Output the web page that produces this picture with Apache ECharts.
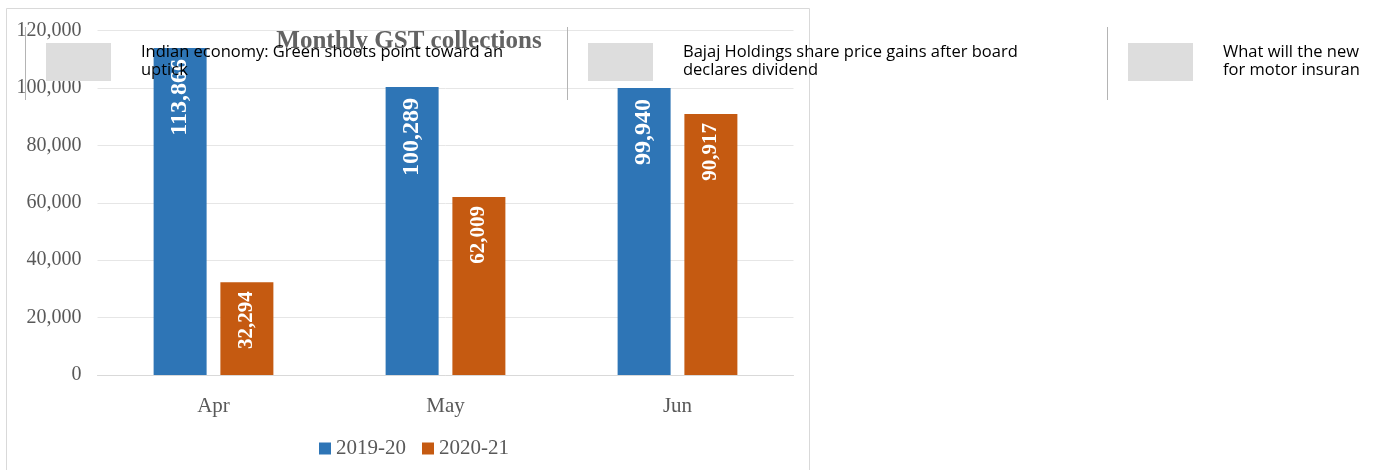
<!DOCTYPE html>
<html>
<head>
<meta charset="utf-8">
<script src="https://cdn.jsdelivr.net/npm/echarts@6/dist/echarts.min.js"></script>
<style>
html,body{margin:0;padding:0;background:#fff;}
#chart{width:1377px;height:470px;}
</style>
</head>
<body>
<div id="chart"></div>
<script>
const chartTitle = 'Monthly GST collections';
const categories = ['Apr', 'May', 'Jun'];
const seriesNames = ['2019-20', '2020-21'];
const values2019 = [113866, 100289, 99940];
const values2020 = [32294, 62009, 90917];
const yTickLabels = ['0', '20,000', '40,000', '60,000', '80,000', '100,000', '120,000'];
const headlines = [
  'Indian economy: Green shoots point toward an\nuptick',
  'Bajaj Holdings share price gains after board\ndeclares dividend',
  'What will the new\nfor motor insurance'
];

const fmt = v => String(v).replace(/\B(?=(\d{3})+(?!\d))/g, ',');
const serif = '"Liberation Serif", "DejaVu Serif", serif';
const headFont = '"Open Sans", Lato, sans-serif';

const graphics = [
  { type: 'rect', shape: { x: 6.5, y: 8.5, width: 803, height: 470 }, style: { fill: 'none', stroke: '#d9d9d9', lineWidth: 1 }, z: 1, silent: true }
];
const itemX = [25, 567, 1107];
headlines.forEach((t, i) => {
  const x0 = itemX[i];
  graphics.push({ type: 'line', shape: { x1: x0 + 0.5, y1: 27, x2: x0 + 0.5, y2: 100 }, style: { stroke: '#b4b4b4', lineWidth: 1 }, z: 100 });
  graphics.push({ type: 'rect', shape: { x: x0 + 21, y: 43, width: 65, height: 38 }, style: { fill: '#dddddd' }, z: 100 });
  graphics.push({ type: 'text', x: x0 + 116, y: 43, z: 101,
    style: { text: t, fill: '#000', font: '16.5px ' + headFont, lineHeight: 18,
             width: i === 2 ? 146 : 440, overflow: 'truncate', ellipsis: '' } });
});

const chart = echarts.init(document.getElementById('chart'));
chart.setOption({
  animation: false,
  backgroundColor: '#fff',
  title: {
    text: chartTitle, left: 404, top: 24, textAlign: 'center',
    textStyle: { fontFamily: serif, fontSize: 25, fontWeight: 'bold', color: '#636363' }
  },
  legend: {
    data: seriesNames, left: 314, top: 433, icon: 'rect', itemWidth: 12, itemHeight: 12, itemGap: 16,
    textStyle: { fontFamily: serif, fontSize: 21, color: '#595959', padding: [0, 0, 0, 0] }
  },
  grid: { left: 97.5, right: 583.5, top: 30.5, bottom: 95, containLabel: false },
  xAxis: {
    type: 'category', data: categories,
    axisLine: { lineStyle: { color: '#d9d9d9' } },
    axisTick: { show: false },
    axisLabel: { fontFamily: serif, fontSize: 21, color: '#595959', margin: 21 }
  },
  yAxis: {
    type: 'value', min: 0, max: 120000, interval: 20000,
    axisLine: { show: false }, axisTick: { show: false },
    splitLine: { lineStyle: { color: '#e6e6e6' } },
    axisLabel: { fontFamily: serif, fontSize: 20, color: '#595959', margin: 16,
      formatter: (v) => yTickLabels[Math.round(v / 20000)] }
  },
  series: [
    { name: seriesNames[0], type: 'bar', data: values2019, barWidth: 53, barGap: '26%',
      itemStyle: { color: '#2E75B6' },
      label: { show: true, position: 'insideTop', rotate: 90, align: 'right', verticalAlign: 'middle', distance: 11,
        formatter: p => fmt(p.value), fontFamily: serif, fontSize: 24, fontWeight: 'bold', color: '#fff' } },
    { name: seriesNames[1], type: 'bar', data: values2020, barWidth: 53, barGap: '26%',
      itemStyle: { color: '#C55A11' },
      label: { show: true, position: 'insideTop', rotate: 90, align: 'right', verticalAlign: 'middle', distance: 9,
        formatter: p => fmt(p.value), fontFamily: serif, fontSize: 21, fontWeight: 'bold', color: '#fff' } }
  ],
  graphic: graphics
});
</script>
</body>
</html>
